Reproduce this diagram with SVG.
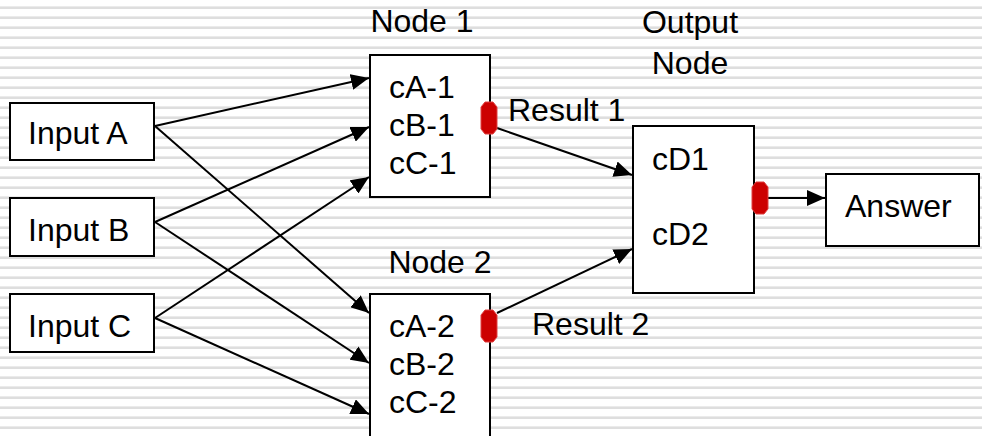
<svg xmlns="http://www.w3.org/2000/svg" width="982" height="436" viewBox="0 0 982 436">
  <defs>
    <!-- ruled background: thin grey band every 10px -->
    <pattern id="ruled" x="0" y="0" width="982" height="10" patternUnits="userSpaceOnUse">
      <rect x="0" y="0" width="982" height="10" fill="#ffffff"/>
      <rect x="0" y="6" width="982" height="1" fill="#ebebeb"/>
      <rect x="0" y="7" width="982" height="2" fill="#dedede"/>
    </pattern>
    <marker id="arrow" markerUnits="userSpaceOnUse" markerWidth="18" markerHeight="16" refX="18" refY="8" orient="auto">
      <path d="M0,0 L18,8 L0,16 z" fill="#000"/>
    </marker>
    <!-- red output port -->
    <path id="port" d="M-4,-16 L4,-16 L8,-11 L8,11 L4,16 L-4,16 L-8,11 L-8,-11 z"/>
  </defs>
  <style>
    .box { fill: #ffffff; stroke: #000000; stroke-width: 2; }
    .lbl { font-family: "Liberation Sans", Arial, sans-serif; font-size: 32px; fill: #000000; }
    .mid { text-anchor: middle; }
    .wire { stroke: #000000; stroke-width: 2; fill: none; marker-end: url(#arrow); }
    .port { fill: #cc0000; stroke: #e04040; stroke-width: 1; }
  </style>

  <rect x="0" y="0" width="982" height="436" fill="url(#ruled)"/>

  <g id="connectors">
    <!-- inputs to Node 1 -->
    <line class="wire" x1="155" y1="126" x2="369" y2="78"/>
    <line class="wire" x1="155" y1="222" x2="369" y2="127"/>
    <line class="wire" x1="155" y1="318" x2="369" y2="177"/>
    <!-- inputs to Node 2 -->
    <line class="wire" x1="155" y1="126" x2="369" y2="313"/>
    <line class="wire" x1="155" y1="222" x2="369" y2="363"/>
    <line class="wire" x1="155" y1="318" x2="369" y2="414"/>
    <!-- results into the output node -->
    <line class="wire" x1="497" y1="128" x2="632" y2="175"/>
    <line class="wire" x1="497" y1="313" x2="632" y2="249"/>
    <!-- output to answer -->
    <line class="wire" x1="768" y1="198" x2="825" y2="198"/>
  </g>

  <g id="input-a">
    <rect class="box" x="10" y="103" width="144" height="57"/>
    <text class="lbl" x="28" y="144">Input A</text>
  </g>
  <g id="input-b">
    <rect class="box" x="10" y="198" width="144" height="58"/>
    <text class="lbl" x="28" y="241">Input B</text>
  </g>
  <g id="input-c">
    <rect class="box" x="10" y="294" width="144" height="58"/>
    <text class="lbl" x="28" y="337">Input C</text>
  </g>

  <g id="node-1">
    <text class="lbl mid" x="422" y="32">Node 1</text>
    <rect class="box" x="370" y="55" width="120" height="142"/>
    <text class="lbl" x="389" y="98">cA-1</text>
    <text class="lbl" x="389" y="136">cB-1</text>
    <text class="lbl" x="389" y="174">cC-1</text>
    <use href="#port" class="port" x="489" y="118"/>
    <text class="lbl" x="508" y="121">Result 1</text>
  </g>

  <g id="node-2">
    <text class="lbl mid" x="440" y="273">Node 2</text>
    <rect class="box" x="370" y="294" width="120" height="160"/>
    <text class="lbl" x="389" y="337">cA-2</text>
    <text class="lbl" x="389" y="375">cB-2</text>
    <text class="lbl" x="389" y="413">cC-2</text>
    <use href="#port" class="port" x="489" y="326"/>
    <text class="lbl" x="532" y="335">Result 2</text>
  </g>

  <g id="output-node">
    <text class="lbl mid" x="690" y="33">Output</text>
    <text class="lbl mid" x="690" y="74">Node</text>
    <rect class="box" x="633" y="126" width="121" height="167"/>
    <text class="lbl" x="652" y="170">cD1</text>
    <text class="lbl" x="652" y="245">cD2</text>
    <use href="#port" class="port" x="760" y="198"/>
  </g>

  <g id="answer">
    <rect class="box" x="826" y="174" width="153" height="72"/>
    <text class="lbl" x="845" y="217">Answer</text>
  </g>
</svg>
